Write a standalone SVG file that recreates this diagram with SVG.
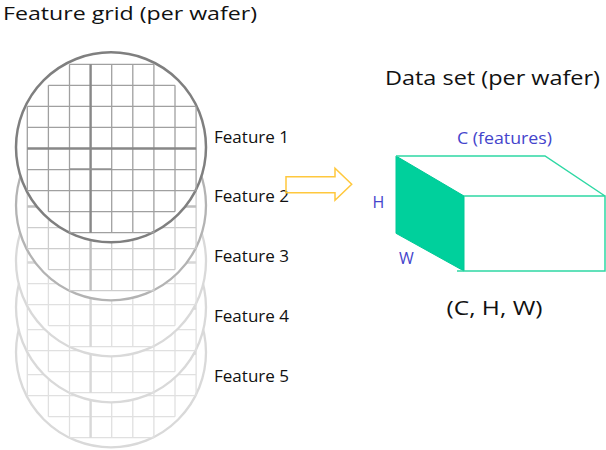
<svg xmlns="http://www.w3.org/2000/svg" xmlns:xlink="http://www.w3.org/1999/xlink" width="606" height="450" viewBox="0 0 606 450">
<style>
  .title { font-family: "Open Sans", "Liberation Sans", sans-serif; font-size: 20px; fill: #111111; }
  .head { font-size: 18.6px; }
  .feat { font-family: "Open Sans", "Liberation Sans", sans-serif; font-size: 16px; fill: #111111; }
  .dim { font-family: "Open Sans", "Liberation Sans", sans-serif; font-size: 16px; fill: #4444cc; }
  .rim { fill: #ffffff; }
  .cells { fill: none; }
  .axes { fill: none; }
  .w1 .rim { stroke: #7f7f7f; stroke-width: 2.5; }
  .w1 .cells { stroke: #a0a0a0; stroke-width: 1.3; }
  .w1 .axes { stroke: #888888; stroke-width: 2.4; }
  .w2 .rim { stroke: #b3b3b3; stroke-width: 2.3; }
  .w2 .cells { stroke: #cdcdcd; stroke-width: 1.3; }
  .w2 .axes { stroke: #c0c0c0; stroke-width: 2.4; }
  .wl .rim { stroke: #d9d9d9; stroke-width: 2.3; }
  .wl .cells { stroke: #e0e0e0; stroke-width: 1.3; }
  .wl .axes { stroke: #d8d8d8; stroke-width: 2.4; }
  .box { stroke: #2ed8a4; stroke-width: 1.5; fill: none; }
</style>
<defs>
  <circle id="rimShape" cx="111" cy="147.3" r="95"/>
  <path id="cellShape" d="M69.5,64.3H153.9 M48.4,85.35H175 M27.3,106.4H196.1 M27.3,127.45H196.1 M27.3,169.55H196.1 M27.3,190.6H196.1 M48.4,211.65H175 M69.5,232.7H153.9 M27.3,106.4V190.6 M48.4,85.35V211.65 M69.5,64.3V232.7 M111.7,64.3V232.7 M132.8,64.3V232.7 M153.9,64.3V232.7 M175,85.35V211.65 M196.1,106.4V190.6"/>
  <path id="axisShape" d="M90.6,64.3V232.7 M27.3,148.5H196.1"/>
</defs>

<g id="wafer-5" class="wl" transform="translate(0,205)">
  <use xlink:href="#rimShape" class="rim"/>
  <use xlink:href="#cellShape" class="cells"/>
  <use xlink:href="#axisShape" class="axes"/>
</g>
<g id="wafer-4" class="wl" transform="translate(0,160)">
  <use xlink:href="#rimShape" class="rim"/>
  <use xlink:href="#cellShape" class="cells"/>
  <use xlink:href="#axisShape" class="axes"/>
</g>
<g id="wafer-3" class="wl" transform="translate(0,114)">
  <use xlink:href="#rimShape" class="rim"/>
  <use xlink:href="#cellShape" class="cells"/>
  <use xlink:href="#axisShape" class="axes"/>
</g>
<g id="wafer-2" class="w2" transform="translate(0,58)">
  <use xlink:href="#rimShape" class="rim"/>
  <use xlink:href="#cellShape" class="cells"/>
  <use xlink:href="#axisShape" class="axes"/>
</g>
<g id="wafer-1" class="w1">
  <use xlink:href="#rimShape" class="rim"/>
  <use xlink:href="#cellShape" class="cells"/>
  <use xlink:href="#axisShape" class="axes"/>
  <path d="M69.5,169.1H111.7" fill="none" stroke="#929292" stroke-width="1.8"/>
</g>

<g id="title-grid"><text class="title head" x="3" y="20" textLength="254" lengthAdjust="spacingAndGlyphs">Feature grid (per wafer)</text></g>
<g id="labels-features">
  <text class="feat" x="214" y="142.5" textLength="75" lengthAdjust="spacingAndGlyphs">Feature 1</text>
  <text class="feat" x="214" y="202" textLength="75" lengthAdjust="spacingAndGlyphs">Feature 2</text>
  <text class="feat" x="214" y="262" textLength="75" lengthAdjust="spacingAndGlyphs">Feature 3</text>
  <text class="feat" x="214" y="322" textLength="75" lengthAdjust="spacingAndGlyphs">Feature 4</text>
  <text class="feat" x="214" y="382" textLength="75" lengthAdjust="spacingAndGlyphs">Feature 5</text>
</g>

<g id="connectors">
  <path id="arrow" d="M286,176.7H335V168.3L351.7,184.3L335,200.2V192.7H286Z" fill="none" stroke="#ffc83d" stroke-width="1.5" stroke-linejoin="miter"/>
</g>

<g id="title-data"><text class="title" x="385" y="85" textLength="215" lengthAdjust="spacingAndGlyphs">Data set (per wafer)</text></g>
<g id="tensor">
  <path d="M396,156L464,196V271L396,233.3Z" fill="#00d09c" stroke="#00c896" stroke-width="1"/>
  <path class="box" d="M396,156H545L605,196 M464,196H605V271H457"/>
  <text class="dim" x="457" y="144.3" textLength="95" lengthAdjust="spacingAndGlyphs">C (features)</text>
  <text class="dim" x="372.5" y="208.3">H</text>
  <text class="dim" x="399" y="264">W</text>
</g>
<g id="shape-label"><text class="title" x="446.5" y="315" textLength="96" lengthAdjust="spacingAndGlyphs">(C, H, W)</text></g>
</svg>
